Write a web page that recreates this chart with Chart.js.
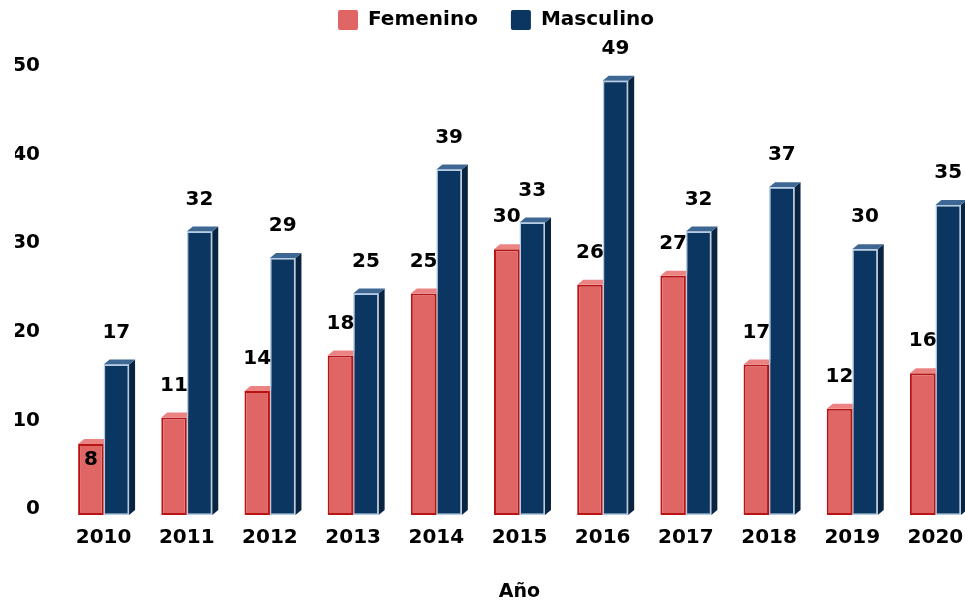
<!DOCTYPE html>
<html>
<head>
<meta charset="utf-8">
<script src="https://cdn.jsdelivr.net/npm/chart.js@4.4.1/dist/chart.umd.min.js"></script>
<style>
  html, body { margin: 0; padding: 0; background: #fff; overflow: hidden; }
  #wrap { position: relative; width: 995px; height: 603px; }
</style>
</head>
<body>
<div id="wrap"><canvas id="c"></canvas></div>
<script>
// ---- data ----
const years = ['2010','2011','2012','2013','2014','2015','2016','2017','2018','2019','2020'];
const femenino = [8, 11, 14, 18, 25, 30, 26, 27, 17, 12, 16];
const masculino = [17, 32, 29, 25, 39, 33, 49, 32, 37, 30, 35];
const yTicks = [0, 10, 20, 30, 40, 50];

// ---- styles ----
const FONT = "'DejaVu Sans', Verdana, sans-serif";
const faceStyles = [
  { top: '#EC8383', side: '#9E2A2A' },
  { top: '#3E6794', side: '#0A2440' }
];
const DEPTH_X = 6, DEPTH_Y = 5;
const LABEL_ABOVE = 32;
const LABEL_INSIDE = 16;
const insideLabels = { 0: [0] }; // dataset 0, point 0 drawn inside the bar

Chart.defaults.font.family = FONT;
Chart.defaults.color = '#000';

const depthPlugin = {
  id: 'depth3d',
  beforeDatasetsDraw(chart) {
    const ctx = chart.ctx;
    chart.data.datasets.forEach((ds, di) => {
      const meta = chart.getDatasetMeta(di);
      const st = faceStyles[di];
      meta.data.forEach(el => {
        const p = el.getProps(['x', 'y', 'base', 'width'], true);
        const x0 = p.x - p.width / 2, x1 = p.x + p.width / 2;
        const top = p.y, base = p.base;
        ctx.save();
        ctx.fillStyle = st.side;
        ctx.beginPath();
        ctx.moveTo(x1, top);
        ctx.lineTo(x1 + DEPTH_X, top - DEPTH_Y);
        ctx.lineTo(x1 + DEPTH_X, base - DEPTH_Y);
        ctx.lineTo(x1, base);
        ctx.closePath();
        ctx.fill();
        ctx.fillStyle = st.top;
        ctx.beginPath();
        ctx.moveTo(x0, top);
        ctx.lineTo(x0 + DEPTH_X, top - DEPTH_Y);
        ctx.lineTo(x1 + DEPTH_X, top - DEPTH_Y);
        ctx.lineTo(x1, top);
        ctx.closePath();
        ctx.fill();
        ctx.restore();
      });
    });
  }
};

const labelPlugin = {
  id: 'valueLabels',
  afterDatasetsDraw(chart) {
    const ctx = chart.ctx;
    ctx.save();
    ctx.font = "bold 20px " + FONT;
    ctx.fillStyle = '#000';
    ctx.textAlign = 'center';
    ctx.textBaseline = 'middle';
    chart.data.datasets.forEach((ds, di) => {
      const meta = chart.getDatasetMeta(di);
      meta.data.forEach((el, i) => {
        const p = el.getProps(['x', 'y'], true);
        const inside = (insideLabels[di] || []).includes(i);
        const y = inside ? p.y + LABEL_INSIDE : p.y - LABEL_ABOVE;
        ctx.fillText(String(ds.data[i]), p.x, y);
      });
    });
    ctx.restore();
  }
};

const legendHeight = {
  id: 'legendHeight',
  beforeInit(chart) {
    const fit = chart.legend.fit;
    chart.legend.fit = function () {
      fit.bind(chart.legend)();
      this.height = 95;
    };
  }
};

new Chart(document.getElementById('c'), {
  type: 'bar',
  data: {
    labels: years,
    datasets: [
      {
        label: 'Femenino',
        data: femenino,
        backgroundColor: '#E06666',
        borderColor: '#B81414',
        borderWidth: 2,
        borderSkipped: false,
        categoryPercentage: 0.613,
        barPercentage: 1.0
      },
      {
        label: 'Masculino',
        data: masculino,
        backgroundColor: '#0B3661',
        borderColor: '#B4CDE6',
        borderWidth: 1.5,
        borderSkipped: false,
        categoryPercentage: 0.613,
        barPercentage: 1.0
      }
    ]
  },
  options: {
    responsive: true,
    maintainAspectRatio: false,
    animation: false,
    layout: { padding: { left: 15, right: 18, top: -23, bottom: 0 } },
    plugins: {
      tooltip: { enabled: false },
      legend: {
        position: 'top',
        labels: {
          font: { size: 20, weight: 'bold', family: FONT },
          color: '#000',
          boxWidth: 20,
          boxHeight: 20,
          padding: 33,
          useBorderRadius: true,
          borderRadius: 2,
          generateLabels(chart) {
            const items = Chart.defaults.plugins.legend.labels.generateLabels(chart);
            items.forEach(it => { it.lineWidth = 0; it.strokeStyle = 'rgba(0,0,0,0)'; });
            return items.sort((a, b) => a.datasetIndex - b.datasetIndex);
          }
        }
      }
    },
    scales: {
      x: {
        afterFit(scale) { scale.height = 88; },
        grid: { display: false, drawTicks: false },
        border: { display: false },
        ticks: { font: { size: 20, weight: 'bold', family: FONT }, color: '#000', padding: 11 },
        title: {
          display: true,
          text: 'Año',
          font: { size: 19, weight: 'bold', family: FONT },
          color: '#000',
          padding: { top: 20, bottom: 0 }
        }
      },
      y: {
        min: 0,
        max: 50,
        afterBuildTicks(scale) { scale.ticks = yTicks.map(v => ({ value: v })); },
        afterFit(scale) { scale.width = 47; },
        grid: { display: false, drawTicks: false },
        border: { display: false },
        ticks: {
          font: { size: 20, weight: 'bold', family: FONT },
          color: '#000',
          padding: 22,
          labelOffset: -6
        }
      }
    }
  },
  plugins: [legendHeight, depthPlugin, labelPlugin]
});
</script>
</body>
</html>
